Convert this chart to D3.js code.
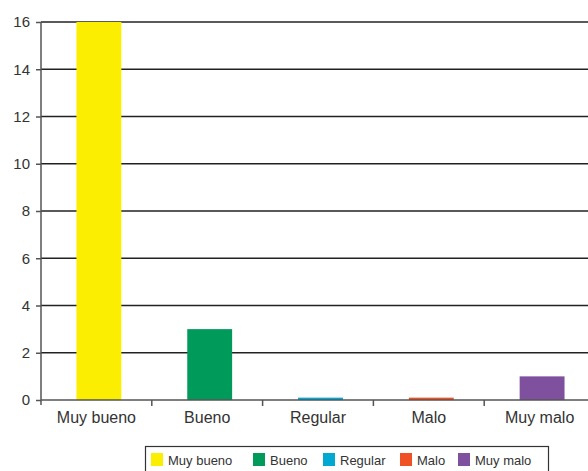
<!DOCTYPE html>
<html>
<head>
<meta charset="utf-8">
<script src="https://cdn.jsdelivr.net/npm/d3@7"></script>
<style>
  body { margin: 0; background: #fff; }
  text { font-family: "Liberation Sans", Arial, sans-serif; fill: #222; }
</style>
</head>
<body>
<div><svg width="588" height="471"></svg></div>
<script>
let categories = ["Muy bueno", "Bueno", "Regular", "Malo", "Muy malo"];
let values = [16, 3, 0.1, 0.1, 1];
let colors = ["#fcee00", "#009a5b", "#00a8d2", "#ef5124", "#7e509e"];
let yTicks = [0, 2, 4, 6, 8, 10, 12, 14, 16];

let margin = {top: 22, left: 41};
let plotRight = 595, plotBottom = 400;

let svg = d3.select("svg");

let xband = d3.scaleBand().domain(categories).range([margin.left, plotRight]);
let ydim = d3.scaleLinear().domain([0, 16]).range([plotBottom, margin.top]);

// gridlines
svg.append("g").selectAll("line").data(yTicks.filter(d => d > 0)).enter()
    .append("line")
    .attr("x1", margin.left).attr("x2", 588)
    .attr("y1", d => ydim(d)).attr("y2", d => ydim(d))
    .style("stroke", "#222").style("stroke-width", 1.3);

// bars (sit a bit right of band centre, like the original)
svg.selectAll(".bar").data(values).enter().append("rect").attr("class", "bar")
    .attr("x", (d, i) => xband(categories[i]) + xband.bandwidth() * 0.32)
    .attr("width", xband.bandwidth() * 0.405)
    .attr("y", d => ydim(d))
    .attr("height", d => plotBottom - ydim(d))
    .style("fill", (d, i) => colors[i]);

// y axis
let yAxis = svg.append("g")
    .attr("transform", "translate(" + margin.left + ",0)")
    .call(d3.axisLeft(ydim).tickValues(yTicks).tickSize(5).tickPadding(6));
yAxis.select(".domain").attr("d", "M0," + margin.top + "V" + (plotBottom + 5));
yAxis.selectAll("text").style("font-size", "15px");

// x axis
let xAxis = svg.append("g")
    .attr("transform", "translate(0," + plotBottom + ")")
    .call(d3.axisBottom(xband).tickSize(0).tickPadding(11.5).tickSizeOuter(0));
xAxis.select(".domain").remove();
xAxis.selectAll("text").style("font-size", "16px");
svg.append("line")
    .attr("x1", margin.left).attr("x2", 588)
    .attr("y1", plotBottom).attr("y2", plotBottom)
    .style("stroke", "#555").style("stroke-width", 1.5);
svg.append("g").selectAll("line").data(categories.slice(1)).enter()
    .append("line")
    .attr("x1", d => xband(d)).attr("x2", d => xband(d))
    .attr("y1", plotBottom).attr("y2", plotBottom + 6)
    .style("stroke", "#555").style("stroke-width", 1.5);
svg.selectAll(".domain, .tick line").style("stroke", "#555").style("stroke-width", 1.5);
svg.selectAll(".tick text").style("fill", "#333");

// legend
let legend = svg.append("g");
legend.append("rect")
    .attr("x", 145.5).attr("y", 446.5).attr("width", 403).attr("height", 40)
    .style("fill", "none").style("stroke", "#333").style("stroke-width", 1.2);
let legendX = [151, 253, 323, 400, 458];
categories.forEach(function(c, i) {
    legend.append("rect")
        .attr("x", legendX[i]).attr("y", 453)
        .attr("width", 12).attr("height", 13)
        .style("fill", colors[i]);
    legend.append("text")
        .attr("x", legendX[i] + 17).attr("y", 465)
        .style("font-size", "13px")
        .style("fill", "#333")
        .text(c);
});
</script>
</body>
</html>
